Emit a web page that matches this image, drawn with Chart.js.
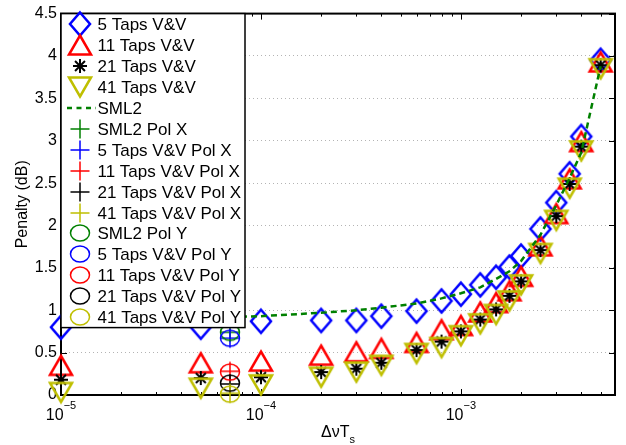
<!DOCTYPE html>
<html>
<head>
<meta charset="utf-8">
<script src="https://cdn.jsdelivr.net/npm/chart.js@4.4.1/dist/chart.umd.min.js"></script>
<style>
html,body{margin:0;padding:0;background:#fff;}
</style>
</head>
<body>
<canvas id="chart" width="626" height="445"></canvas>
<script>
// values
const dvT = [1e-5, 5e-5, 1e-4, 2e-4, 3e-4, 4e-4, 6e-4, 8e-4, 1e-3, 1.25e-3, 1.5e-3, 1.75e-3, 2e-3, 2.5e-3, 3e-3, 3.5e-3, 4e-3, 5e-3];
const taps5  = [0.80, 0.80, 0.87, 0.88, 0.88, 0.93, 0.99, 1.11, 1.19, 1.30, 1.39, 1.51, 1.64, 1.96, 2.27, 2.61, 3.05, 3.95];
const taps11 = [0.35, 0.38, 0.40, 0.47, 0.51, 0.55, 0.62, 0.77, 0.82, 0.98, 1.09, 1.23, 1.40, 1.76, 2.14, 2.55, 2.99, 3.93];
const taps21 = [0.18, 0.20, 0.21, 0.27, 0.31, 0.38, 0.53, 0.63, 0.75, 0.89, 1.01, 1.17, 1.34, 1.71, 2.11, 2.49, 2.93, 3.89];
const taps41 = [0.03, 0.08, 0.12, 0.21, 0.27, 0.35, 0.49, 0.56, 0.70, 0.84, 0.95, 1.11, 1.30, 1.67, 2.06, 2.44, 2.88, 3.85];
const sml2   = [0.90, 0.91, 0.93, 0.97, 1.00, 1.03, 1.08, 1.14, 1.20, 1.27, 1.37, 1.46, 1.58, 1.89, 2.24, 2.56, 2.86, 3.88];

// single polarisation runs, all at one dvT
const polPoint = 7e-5;
const polX = [0.74, 0.67, 0.28, 0.13, 0.02]; // SML2, 5, 11, 21, 41 taps
const polY = [0.74, 0.67, 0.27, 0.14, 0.01];

const yTicks = [0, 0.5, 1, 1.5, 2, 2.5, 3, 3.5, 4, 4.5];
const xDecades = [-5, -4, -3];

const FONT = '"Liberation Sans", Arial, sans-serif';
const col = {blue:'#0000ff', red:'#ff0000', black:'#000000', yellow:'#bfbf00', green:'#008000'};

// marker images (matlab-ish shapes)
function marker(w, h, fn){
  const c = document.createElement('canvas');
  c.width = w; c.height = h;
  const g = c.getContext('2d');
  fn(g, w/2, h/2);
  return c;
}
function diamond(color){
  return marker(26, 30, (g,cx,cy)=>{
    g.strokeStyle=color; g.lineWidth=2.5;
    g.beginPath();
    g.moveTo(cx, cy-11.5); g.lineTo(cx+10, cy); g.lineTo(cx, cy+11.5); g.lineTo(cx-10, cy);
    g.closePath(); g.stroke();
  });
}
function tri(color, up){
  return marker(30, 30, (g,cx,cy)=>{
    g.strokeStyle=color; g.lineWidth=2.5;
    const s = up ? 1 : -1;
    g.beginPath();
    g.moveTo(cx, cy-9.5*s); g.lineTo(cx+11, cy+9.5*s); g.lineTo(cx-11, cy+9.5*s);
    g.closePath(); g.stroke();
  });
}
function aster(color){
  return marker(20, 20, (g,cx,cy)=>{
    g.strokeStyle=color; g.lineWidth=2;
    g.beginPath();
    for(let k=0;k<4;k++){
      const a = k*Math.PI/4, dx = Math.cos(a)*7, dy = Math.sin(a)*7;
      g.moveTo(cx-dx, cy-dy); g.lineTo(cx+dx, cy+dy);
    }
    g.stroke();
  });
}
function plus(color){
  return marker(22, 22, (g,cx,cy)=>{
    g.strokeStyle=color; g.lineWidth=1.5;
    g.beginPath();
    g.moveTo(cx-9.5, cy); g.lineTo(cx+9.5, cy);
    g.moveTo(cx, cy-9.5); g.lineTo(cx, cy+9.5);
    g.stroke();
  });
}
function ring(color){
  return marker(24, 22, (g,cx,cy)=>{
    g.strokeStyle=color; g.lineWidth=1.5;
    g.beginPath();
    g.ellipse(cx, cy, 9.5, 8, 0, 0, Math.PI*2);
    g.stroke();
  });
}

const pts = ys => dvT.map((x,i)=>({x:x, y:ys[i]}));
const one = v => [{x:polPoint, y:v}];

const series = [
  {label:'5 Taps V&V', data:pts(taps5), img:diamond(col.blue)},
  {label:'11 Taps V&V', data:pts(taps11), img:tri(col.red, true)},
  {label:'21 Taps V&V', data:pts(taps21), img:aster(col.black)},
  {label:'41 Taps V&V', data:pts(taps41), img:tri(col.yellow, false)},
  {label:'SML2', data:pts(sml2), line:col.green},
  {label:'SML2 Pol X', data:one(polX[0]), img:plus(col.green)},
  {label:'5 Taps V&V Pol X', data:one(polX[1]), img:plus(col.blue)},
  {label:'11 Taps V&V Pol X', data:one(polX[2]), img:plus(col.red)},
  {label:'21 Taps V&V Pol X', data:one(polX[3]), img:plus(col.black)},
  {label:'41 Taps V&V Pol X', data:one(polX[4]), img:plus(col.yellow)},
  {label:'SML2 Pol Y', data:one(polY[0]), img:ring(col.green)},
  {label:'5 Taps V&V Pol Y', data:one(polY[1]), img:ring(col.blue)},
  {label:'11 Taps V&V Pol Y', data:one(polY[2]), img:ring(col.red)},
  {label:'21 Taps V&V Pol Y', data:one(polY[3]), img:ring(col.black)},
  {label:'41 Taps V&V Pol Y', data:one(polY[4]), img:ring(col.yellow)}
];

const datasets = series.map((s,i)=>{
  const d = {label:s.label, data:s.data, clip:false, order:series.length - i};
  if(s.line){
    Object.assign(d, {showLine:true, borderColor:s.line, borderWidth:2.5, borderDash:[6,4], pointRadius:0, tension:0, fill:false});
  } else {
    Object.assign(d, {showLine:false, pointStyle:s.img, pointRadius:10, pointHoverRadius:10});
  }
  return d;
});

// axes box, inward ticks, superscript labels
const axesDeco = {
  id:'axesDeco',
  beforeDatasetsDraw(chart){
    const ctx = chart.ctx, a = chart.chartArea;
    const xs = chart.scales.x, ys = chart.scales.y;
    ctx.save();
    ctx.strokeStyle = '#000';
    ctx.lineWidth = 1;
    ctx.beginPath();
    xDecades.forEach(d=>{
      for(let k=1;k<10;k++){
        const v = k*Math.pow(10,d);
        if(v < xs.min || v > xs.max) continue;
        const px = Math.round(xs.getPixelForValue(v)) + 0.5;
        const len = k===1 ? 6 : 3;
        ctx.moveTo(px, a.bottom); ctx.lineTo(px, a.bottom-len);
        ctx.moveTo(px, a.top); ctx.lineTo(px, a.top+len);
      }
    });
    yTicks.forEach(v=>{
      const py = Math.round(ys.getPixelForValue(v)) + 0.5;
      ctx.moveTo(a.left, py); ctx.lineTo(a.left+6, py);
      ctx.moveTo(a.right, py); ctx.lineTo(a.right-6, py);
    });
    ctx.stroke();
    ctx.lineWidth = 2;
    ctx.strokeRect(a.left, a.top, a.right-a.left, a.bottom-a.top);

    // x tick labels 10^d
    ctx.fillStyle = '#000';
    ctx.textBaseline = 'alphabetic';
    ctx.textAlign = 'left';
    xDecades.forEach(d=>{
      const px = xs.getPixelForValue(Math.pow(10,d));
      const sup = '\u2212' + Math.abs(d);
      ctx.font = '16px ' + FONT;
      const w1 = ctx.measureText('10').width;
      ctx.font = '11px ' + FONT;
      const w2 = ctx.measureText(sup).width;
      const x0 = px - (w1+w2)/2;
      ctx.font = '16px ' + FONT;
      ctx.fillText('10', x0, 420);
      ctx.font = '11px ' + FONT;
      ctx.fillText(sup, x0+w1, 409);
    });

    // axis titles
    ctx.font = '16px ' + FONT;
    const w1 = ctx.measureText('\u0394\u03bdT').width;
    ctx.font = '11px ' + FONT;
    const w2 = ctx.measureText('s').width;
    const cx = (a.left+a.right)/2 - (w1+w2)/2;
    ctx.font = '16px ' + FONT;
    ctx.fillText('\u0394\u03bdT', cx, 437);
    ctx.font = '11px ' + FONT;
    ctx.fillText('s', cx+w1, 443);

    ctx.translate(27, (a.top+a.bottom)/2);
    ctx.rotate(-Math.PI/2);
    ctx.textAlign = 'center';
    ctx.font = '16px ' + FONT;
    ctx.fillText('Penalty (dB)', 0, 0);
    ctx.restore();
  }
};

// matlab style legend box in the top left corner
const legendBox = {
  id:'legendBox',
  afterDraw(chart){
    const ctx = chart.ctx, a = chart.chartArea;
    const x0 = a.left, y0 = a.top, w = 184, h = 314;
    ctx.save();
    ctx.fillStyle = '#fff';
    ctx.fillRect(x0, y0, w, h);
    ctx.strokeStyle = '#000';
    ctx.lineWidth = 1.5;
    ctx.strokeRect(x0, y0, w, h);
    ctx.font = '17px ' + FONT;
    ctx.textBaseline = 'alphabetic';
    ctx.fillStyle = '#000';
    series.forEach((s,i)=>{
      const cy = y0 + 10.8 + i*20.9;
      const mx = x0 + 19;
      if(s.line){
        ctx.save();
        ctx.strokeStyle = s.line; ctx.lineWidth = 2.5; ctx.setLineDash([5,4.5]);
        ctx.beginPath(); ctx.moveTo(x0+6, cy); ctx.lineTo(x0+35, cy); ctx.stroke();
        ctx.restore();
      } else {
        ctx.drawImage(s.img, Math.round(mx - s.img.width/2), Math.round(cy - s.img.height/2));
      }
      ctx.fillText(s.label, x0 + 36.5, cy + 6);
    });
    ctx.restore();
  }
};

new Chart(document.getElementById('chart'), {
  type:'scatter',
  data:{datasets:datasets},
  options:{
    responsive:false,
    animation:false,
    layout:{padding:{left:0, right:8, top:10, bottom:0}},
    plugins:{legend:{display:false}, tooltip:{enabled:false}},
    scales:{
      x:{
        type:'logarithmic',
        min:1e-5, max:5.9e-3,
        grid:{display:false},
        border:{display:false},
        ticks:{display:false},
        afterFit(s){ s.height = 50; }
      },
      y:{
        min:0, max:4.5,
        afterBuildTicks(s){ s.ticks = yTicks.map(v=>({value:v})); },
        ticks:{
          padding:4, color:'#000',
          font:{family:FONT, size:16},
          callback:v=>String(v)
        },
        grid:{color:'#b4b4b4', lineWidth:1, drawTicks:false},
        border:{display:false, dash:[1,3]},
        afterFit(s){ s.width = 61; }
      }
    }
  },
  plugins:[axesDeco, legendBox]
});
</script>
</body>
</html>
